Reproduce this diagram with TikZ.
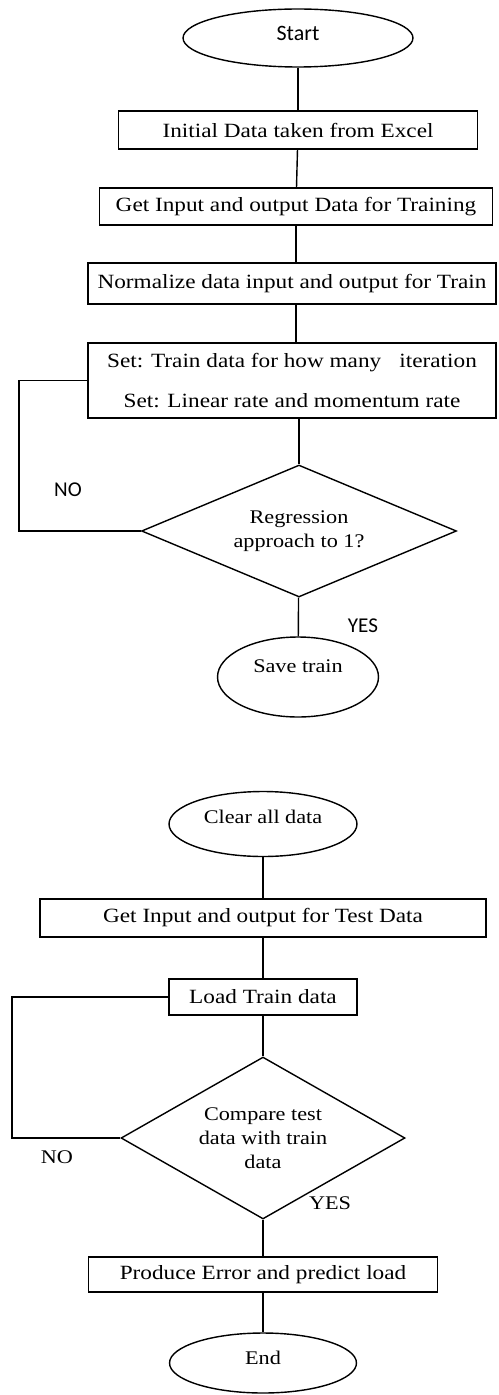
\documentclass[tikz,border=0pt]{standalone}
\usepackage{fontspec}
\setmainfont{Liberation Serif}[FakeStretch=1.15]
\newfontfamily\labelsans{Carlito}
\usetikzlibrary{shapes.geometric}
\usetikzlibrary{positioning}

\begin{document}
\begin{tikzpicture}[x=0.02cm,y=-0.02cm,line width=0.8pt,
  proc/.style={rectangle,draw,inner sep=0pt,font=\fontsize{11.5}{13.5}\selectfont},
  term/.style={ellipse,draw,inner sep=0pt,font=\fontsize{11}{13}\selectfont},
  decide/.style={diamond,draw,inner sep=0pt,align=center,font=\fontsize{11}{13.5}\selectfont},
  sanslabel/.style={font=\labelsans\fontsize{12}{14}\selectfont},
  seriflabel/.style={font=\fontsize{11}{13}\selectfont}]
\useasboundingbox (0,0) rectangle (498,1395);

% training part
\node[term,font=\labelsans\fontsize{12.5}{14}\selectfont,text depth=5.5pt,minimum width=4.6cm,minimum height=1.16cm] (start) at (298,38) {Start};
\node[proc,minimum width=7.18cm,minimum height=0.76cm] (init) at (298,130) {Initial Data taken from Excel};
\node[proc,minimum width=7.86cm,minimum height=0.74cm] (getdata) at (296,206.5) {Get Input and output Data for Training};
\node[proc,minimum width=8.16cm,minimum height=0.82cm] (norm) at (292,283.5) {Normalize data input and output for Train};
\node[proc,align=center,minimum width=8.16cm,minimum height=1.5cm] (setup) at (292,380.5)
  {Set: Train data for how many\hspace{0.9em}iteration\\[9pt]Set: Linear rate and momentum rate};
\node[decide,aspect=2.4,minimum width=6.3cm,minimum height=2.64cm] (dec1) at (299,531) {Regression\\approach to 1?};
\node[term,text depth=12.4pt,minimum width=3.22cm,minimum height=1.6cm] (save) at (298,677) {Save train};

\draw (start) -- (init);
\draw (init) -- (getdata);
\draw (getdata) -- (getdata |- norm.north);
\draw (norm.south -| getdata) -- (getdata |- setup.north);
\draw (setup.south -| dec1) -- (dec1);
\draw (dec1) -- (save);

\coordinate (loopA) at (19,0);
\draw (dec1.west) -- (dec1.west -| loopA) |- (setup.west);
\node[sanslabel] (no1) at (68,490) {NO};
\node[sanslabel] (yes1) at (363,626) {YES};

% testing part
\node[term,text depth=8pt,minimum width=3.76cm,minimum height=1.3cm] (clear) at (263,824) {Clear all data};
\node[proc,minimum width=8.92cm,minimum height=0.76cm] (gettest) at (263,918) {Get Input and output for Test Data};
\node[proc,minimum width=3.76cm,minimum height=0.72cm] (load) at (263,997) {Load Train data};
\node[decide,aspect=1.75,minimum width=5.68cm,minimum height=3.24cm] (dec2) at (263,1138) {Compare test\\data with train\\data};
\node[proc,minimum width=6.98cm,minimum height=0.7cm] (predict) at (263,1274.5) {Produce Error and predict load};
\node[term,text depth=5.6pt,minimum width=3.74cm,minimum height=1.2cm] (finish) at (263,1363) {End};

\draw (clear) -- (gettest);
\draw (gettest) -- (load);
\draw (load) -- (dec2);
\draw (dec2) -- (predict);
\draw (predict) -- (finish);

\coordinate (loopB) at (12,0);
\draw (load.west) -- (load.west -| loopB) |- (dec2.west);
\node[seriflabel] (no2) at (57,1157) {NO};
\node[seriflabel] (yes2) at (330,1203) {YES};

\end{tikzpicture}
\end{document}
